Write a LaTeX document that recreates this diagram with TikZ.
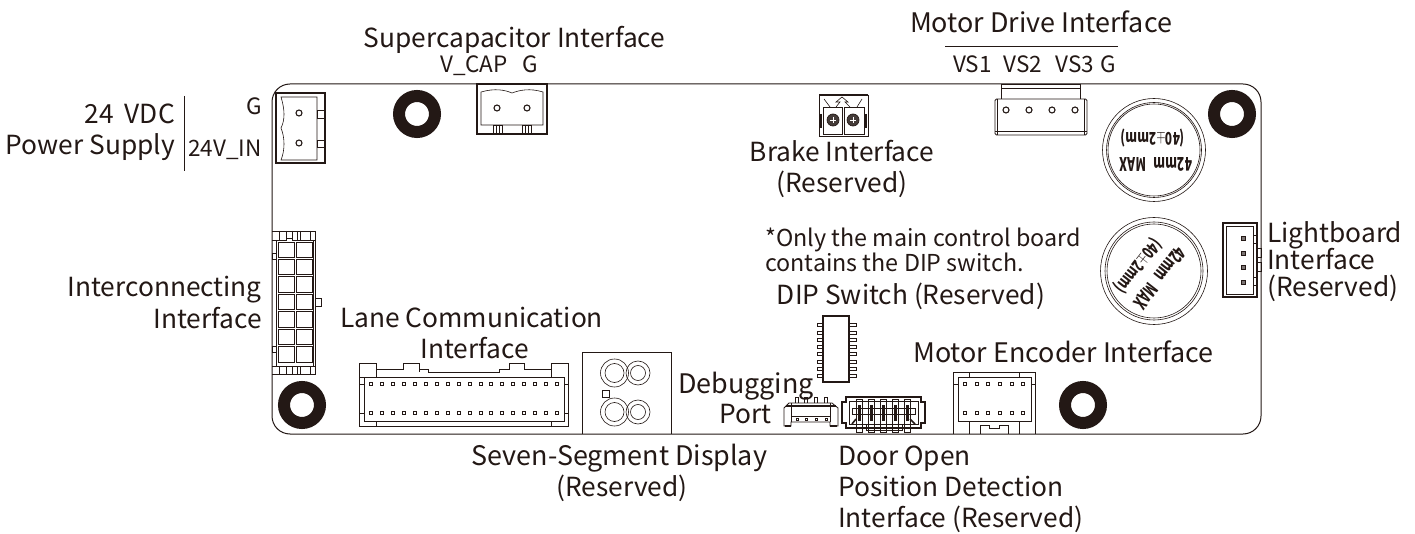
\documentclass[tikz,border=0pt]{standalone}
\usepackage{graphicx}
\usepackage{fontspec}
\setmainfont{Noto Sans CJK SC}
\definecolor{ink}{HTML}{231815}
\newcommand{\fbig}{\fontsize{26.3}{31}\selectfont}
\newcommand{\fwide}{\fontsize{26.9}{31}\selectfont}
\newcommand{\fmid}{\fontsize{22.5}{25}\selectfont}
\newcommand{\fsmal}{\fontsize{23.3}{27}\selectfont}
\newcommand{\capa}{\scalebox{0.82}[1.2]{\fontsize{14.5}{14}\selectfont\bfseries (40$\pm$2mm)}}
\newcommand{\capb}{\scalebox{0.8}[1.25]{\fontsize{15}{15}\selectfont\bfseries 42mm\hspace{10pt}MAX}}
\tikzset{
 x=1pt,y=-1pt,
 lab/.style={inner sep=0pt,text=ink,font=\fbig,align=center},
 labw/.style={lab,font=\fwide},
 labr/.style={lab,align=right},
 pinlab/.style={inner sep=0pt,text=ink,font=\fmid},
 notelab/.style={inner sep=0pt,text=ink,font=\fsmal,anchor=base west},
 caplab/.style={inner sep=0pt,text=ink},
 part/.style={draw=ink,line width=0.8pt},
 fine/.style={draw=ink,line width=0.6pt},
 heavy/.style={draw=ink,line width=1.3pt},
 washer/.style={circle,draw=ink,line width=12pt,minimum size=36pt,inner sep=0pt},
 hole/.style={draw=ink,line width=1.1pt,fill=white},
 pin/.style={draw=ink,line width=0.8pt,fill=white},
}
\begin{document}
\begin{tikzpicture}
\useasboundingbox (0,0) rectangle (1415,534);
\fill[white] (0,0) rectangle (1415,534);
% board
\draw[draw=ink,line width=1pt,rounded corners=18pt] (272,84) rectangle (1261,434);
% washers
\node[washer] (w1) at (417,114) {};
\node[washer] (w2) at (1232,114) {};
\node[washer] (w3) at (302,405) {};
\node[washer] (w4) at (1083,405) {};
% power connector
\draw[heavy] (276,93) rectangle (325,163);
\draw[fine] (281,97) .. controls (285,110) and (285,120) .. (281,128) .. controls (285,138) and (285,150) .. (281,160) -- (317,160) -- (317,97) -- cycle;
\draw[fine] (317,110) rectangle (325,118) (317,140) rectangle (325,147);
\draw[hole] (299,113) circle (3) (299,143) circle (3);
% supercap connector
\draw[heavy] (477,84) rectangle (547,134);
\draw[fine] (481,125) -- (481,92) .. controls (495,88) and (505,90) .. (512,93) .. controls (520,90) and (530,88) .. (543,92) -- (543,125) -- cycle;
\draw[fine] (493,125) rectangle (502,134) (496,125) -- (496,134) (499,125)--(499,134);
\draw[fine] (522,125) rectangle (531,134) (525,125) -- (525,134) (528,125)--(528,134);
\draw[hole] (497,108) circle (3) (527,108) circle (3);
% brake connector
\draw[part] (819,95) rectangle (868,136);
\draw[draw=ink,line width=2.2pt] (819,95) -- (868,95);
\draw[fine] (823,107) rectangle (842,134) (844,107) rectangle (864,134);
\draw[fine] (824,99) -- (830,107) (836,107) -- (840,102) -- (836,102) -- (842,97) -- (848,102) -- (845,102) -- (850,107) (862,99) -- (857,107);
\draw[draw=ink,line width=1.2pt] (821,114) -- (821,128) (866,114) -- (866,128);
\draw[draw=ink,fill=ink!85,line width=0.7pt] (833,120) circle (6) (853,120) circle (6);
\draw[draw=white,line width=0.4pt] (830,120) -- (836,120) (833,117) -- (833,123) (850,120) -- (856,120) (853,117) -- (853,123);
% motor drive connector
\draw[part] (1001,99) -- (1001,84) -- (1080,84) -- (1080,99);
\draw[fine] (1001,88) -- (1080,88);
\draw[part,rounded corners=1.5pt] (995,99) rectangle (1087,135);
\draw[fine] (995,131) -- (1087,131) (997.5,99) -- (997.5,135) (1084.5,99) -- (1084.5,135);
\foreach \px in {1006,1029,1052,1075} \draw[hole] (\px,110) circle (3);
% capacitors
\draw[fine] (1154,150) circle (51.5) (1154,150) circle (47.5) (1154,150) circle (46);
\node[caplab,rotate=180] (c1a) at (1153,138) {\capa};
\node[caplab,rotate=180] (c1b) at (1156,164) {\capb};
\draw[fine] (1154,271) circle (53.5) (1154,271) circle (49) (1154,271) circle (47);
\node[caplab,rotate=232] (c2a) at (1138,266) {\capa};
\node[caplab,rotate=232] (c2b) at (1160,278) {\capb};
% lightboard connector
\draw[heavy] (1223,223) rectangle (1257,297);
\draw[fine] (1226,226) rectangle (1253,294);
\draw[fine] (1253,235) rectangle (1257,243) (1253,277) rectangle (1257,285);
\draw[fine] (1257,248) rectangle (1261,257) (1257,262) rectangle (1261,271);
\foreach \py in {236,251,265,280} \draw[pin,fill=ink!60] (1241,\py) rectangle ++(4,4);
% interconnecting connector
\draw[part] (272,231) -- (315,231) -- (315,374) -- (272,374);
\draw[fine] (272,240) -- (286,240) -- (286,238) -- (292,238) -- (292,240) -- (315,240);
\draw[fine] (272,366) -- (315,366);
\draw[fine] (276,240) -- (276,366) (313,240) -- (313,366);
\foreach \sx in {279,286,292,297,300,310} {\draw[fine] (\sx,231) -- (\sx,240); \draw[fine] (\sx,366) -- (\sx,374);}
\foreach \r in {0,...,6} {
  \draw[part] (278,{242+17.4*\r}) rectangle ++(16,15.5);
  \draw[part] (296,{242+17.4*\r}) rectangle ++(16,15.5);
}
\draw[fine] (272,253) rectangle (276,259) (272,346) rectangle (276,352);
\draw[fine] (315,298) rectangle (321,306);
% lane connector
\draw[part] (364,377) -- (359,377) -- (359,363) -- (376,363) -- (376,369) -- (403,369) -- (403,363) -- (419,363) -- (419,369) -- (428,369) -- (428,372) -- (499,372) -- (499,369) -- (509,369) -- (509,363) -- (524,363) -- (524,369) -- (551,369) -- (551,363) -- (568,363) -- (568,426) -- (359,426) -- (359,377);
\draw[part] (364,377) rectangle (564,421);
\draw[fine] (376,369) -- (376,377) (551,369) -- (551,377) (376,421) -- (376,426) (551,421) -- (551,426);
\draw[fine] (419,369) -- (419,372);
\draw[fine] (359,384) -- (364,384) (359,413) -- (364,413) (564,384) -- (568,384) (564,413) -- (568,413);
\foreach \k in {0,...,17} {
  \draw[pin] ({369.5+10.94*\k},382.5) rectangle ++(3,3);
  \draw[pin] ({369.5+10.94*\k},411.5) rectangle ++(3,3);
}
% seven-segment display
\draw[part] (582,434) -- (582,352) -- (671,352) -- (671,434);
\foreach \yy in {373,412} {
  \draw[fine] (614.5,\yy) circle (14) (614.5,\yy) circle (9.5);
  \draw[fine] (638,\yy) circle (12) (638,\yy) circle (7.5);
}
\draw[fine,fill=white] (602.5,390.5) rectangle ++(7,7);
% DIP switch
\draw[heavy] (823,316) rectangle (849,382);
\foreach \k in {0,...,7} {
  \draw[fine] (817,{323.5+7.3*\k}) rectangle (823,{326.5+7.3*\k});
  \draw[fine] (849,{323.5+7.3*\k}) rectangle (856,{326.5+7.3*\k});
}
% debugging port connector
\draw[part] (789,403) -- (832,403) -- (838,408) -- (838,426) -- (830,426) -- (830,422) -- (791,422) -- (791,426) -- (784,426) -- (784,408) -- cycle;
\draw[fine] (791,403) -- (791,422) (830,403) -- (830,422) (791,416) -- (830,416);
\draw[draw=ink,line width=2.4pt] (786,406) -- (836,406);
\draw[draw=ink,line width=1.6pt] (785,426) -- (791,426) (830,426) -- (837,426);
\foreach \px in {797,806,816,826} {
  \draw[fine] (\px-1.5,403) -- (\px-1.5,397) -- (\px+1.5,397) -- (\px+1.5,403);
  \draw[pin] (\px-1,418) rectangle ++(2,2);
}
% door open connector
\draw[heavy] (842,402) -- (846,402) -- (846,397) -- (921,397) -- (921,402) -- (925,402) -- (925,423) -- (921,423) -- (921,428) -- (846,428) -- (846,423) -- (842,423) -- cycle;
\draw[fine] (849,401) rectangle (918,424);
\draw[part] (852,408) rectangle (915,414);
\draw[fine] (866,424) -- (866,430) -- (902,430) -- (902,424);
\foreach \px in {859,871,883,895,907} {
  \draw[fine] (\px-3,399) rectangle (\px+3,432);
  \draw[draw=ink,line width=3pt] (\px,405) -- (\px,421);
}
\draw[draw=ink,line width=1.6pt] (852,424) -- (856,419) (915,424) -- (910,419);
% motor encoder connector
\draw[part] (953,434) -- (953,372) -- (1035,372) -- (1035,434);
\draw[part] (958,377) rectangle (1031,421);
\draw[fine] (969,372) -- (969,377) (1019,372) -- (1019,377);
\draw[fine] (953,384) -- (958,384) (1031,384) -- (1035,384);
\draw[fine] (969,421) -- (969,434) (1019,421) -- (1019,434);
\draw[fine] (980,434) -- (980,425) -- (989,425) -- (989,428) -- (999,428) -- (999,425) -- (1008,425) -- (1008,434);
\foreach \k in {0,...,5} {
  \draw[pin] ({963.5+11.6*\k},382.5) rectangle ++(3,3);
  \draw[pin] ({963.5+11.6*\k},411.5) rectangle ++(3,3);
}
% labels
\node[labr,anchor=base east] (l1a) at (175,124) {24\hspace{5pt} VDC};
\node[labr,anchor=base east] (l1b) at (175,155) {Power Supply};
\coordinate (s1a) at (184,96); \coordinate (s1b) at (184,171);
\draw[draw=ink,line width=0.9pt] (s1a) -- (s1b);
\node[pinlab,anchor=base east] (pg) at (262,115) {G};
\node[pinlab,anchor=base east] (p24) at (262,157) {24V\_IN};
\node[lab,anchor=base] (lsc) at (514.5,48) {Supercapacitor Interface};
\node[pinlab,anchor=base] (pv) at (474,73) {V\_CAP};
\node[pinlab,anchor=base] (pgc) at (530,73) {G};
\node[labw,anchor=base] (lmd) at (1041,33) {Motor Drive Interface};
\coordinate (s2a) at (945,46); \coordinate (s2b) at (1118,46);
\draw[draw=ink,line width=0.9pt] (s2a) -- (s2b);
\node[pinlab,anchor=base] (pvs1) at (972.5,73) {VS1};
\node[pinlab,anchor=base] (pvs2) at (1023,73) {VS2};
\node[pinlab,anchor=base] (pvs3) at (1075,73) {VS3};
\node[pinlab,anchor=base] (pgm) at (1108,73) {G};
\node[lab,anchor=base] (lb1) at (842,162) {Brake Interface};
\node[lab,anchor=base] (lb2) at (842,193) {(Reserved)};
\node[notelab] (n1) at (765,247) {*Only the main control board};
\node[notelab] (n2) at (765,272) {contains the DIP switch.};
\node[lab,anchor=base] (ld) at (911,305) {DIP Switch (Reserved)};
\node[lab,anchor=base west] (ll1) at (1267,243) {Lightboard};
\node[lab,anchor=base west] (ll2) at (1267,270) {Interface};
\node[lab,anchor=base west] (ll3) at (1267,297) {(Reserved)};
\node[labr,anchor=base east] (li1) at (262,297) {Interconnecting};
\node[labr,anchor=base east] (li2) at (262,328) {Interface};
\node[lab,anchor=base] (lc1) at (471.5,327) {Lane Communication};
\node[lab,anchor=base] (lc2) at (474.5,358) {Interface};
\node[labw,anchor=base east] (ldb1) at (814,393) {Debugging};
\node[labr,anchor=base east] (ldb2) at (772,423) {Port};
\node[labw,anchor=base] (lme) at (1063.5,362) {Motor Encoder Interface};
\node[labw,anchor=base] (ls1) at (619.5,465) {Seven-Segment Display};
\node[lab,anchor=base] (ls2) at (622,496) {(Reserved)};
\node[lab,anchor=base west] (ldo1) at (838,465) {Door Open};
\node[lab,anchor=base west] (ldo2) at (838,496) {Position Detection};
\node[lab,anchor=base west] (ldo3) at (838,527) {Interface (Reserved)};
\end{tikzpicture}
\end{document}
